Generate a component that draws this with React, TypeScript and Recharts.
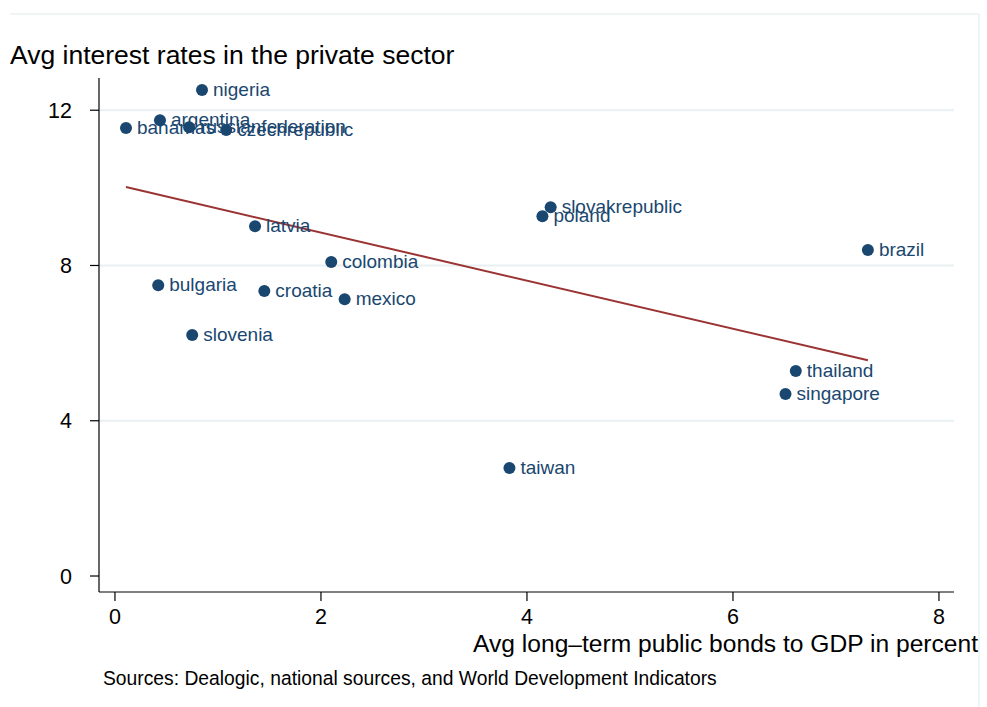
import React from 'react';
import {
  ScatterChart,
  Scatter,
  XAxis,
  YAxis,
  ReferenceLine,
} from 'recharts';

// countries, bond ratio (x) and private-sector rates (y)
const countries = [
  'nigeria', 'argentina', 'bahamas', 'russianfederation', 'czechrepublic',
  'latvia', 'colombia', 'bulgaria', 'croatia', 'mexico', 'slovenia',
  'slovakrepublic', 'poland', 'brazil', 'thailand', 'singapore', 'taiwan',
];
const bondsToGdp = [
  0.845, 0.437, 0.107, 0.72, 1.08,
  1.36, 2.1, 0.42, 1.45, 2.23, 0.75,
  4.23, 4.15, 7.31, 6.61, 6.51, 3.83,
];
const interestRates = [
  12.52, 11.74, 11.54, 11.56, 11.49,
  9.01, 8.09, 7.49, 7.34, 7.13, 6.21,
  9.5, 9.27, 8.4, 5.28, 4.69, 2.78,
];

// fitted line endpoints
const fitX = [0.107, 7.31];
const fitY = [10.02, 5.56];

const xTicks = [0, 2, 4, 6, 8];
const yTicks = [0, 4, 8, 12];
const gridLines = [4, 8, 12];

const NAVY = '#1a476f';
const MAROON = '#9b3333';
const FONT = '"Liberation Sans", Arial, sans-serif';

const points = countries.map((name, i) => ({
  name,
  x: bondsToGdp[i],
  y: interestRates[i],
}));
const fit = fitX.map((x, i) => ({ x, y: fitY[i] }));

const PointWithLabel = (props: any) => {
  const { cx, cy, payload } = props;
  return (
    <g>
      <circle cx={cx} cy={cy} r={6} fill={NAVY} />
      <text x={cx + 11} y={cy + 6} fill={NAVY} fontSize={19} fontFamily={FONT}>
        {payload.name}
      </text>
    </g>
  );
};

export default function App() {
  return (
    <div style={{ position: 'absolute', left: 0, top: 0, width: 987, height: 707, background: '#fff' }}>
      <ScatterChart
        width={987}
        height={707}
        margin={{ top: 78, right: 33, left: 39, bottom: 75 }}
        style={{ position: 'absolute', left: 0, top: 0 }}
      >
        <XAxis
          type="number"
          dataKey="x"
          domain={[-0.155, 8.146]}
          ticks={xTicks}
          allowDataOverflow
          height={40}
          tickSize={9}
          tickMargin={8}
          axisLine={{ stroke: '#000', strokeWidth: 1.2 }}
          tickLine={{ stroke: '#000', strokeWidth: 1.2 }}
          tick={{ fill: '#000', fontSize: 21.5, fontFamily: FONT }}
        />
        <YAxis
          type="number"
          dataKey="y"
          domain={[-0.412, 12.83]}
          ticks={yTicks}
          allowDataOverflow
          width={60}
          tickSize={9}
          tickMargin={18}
          axisLine={{ stroke: '#000', strokeWidth: 1.2 }}
          tickLine={{ stroke: '#000', strokeWidth: 1.2 }}
          tick={{ fill: '#000', fontSize: 21.5, fontFamily: FONT }}
        />
        {gridLines.map((v) => (
          <ReferenceLine key={v} y={v} stroke="#e8f0f2" strokeWidth={2} />
        ))}
        <Scatter
          data={fit}
          line={{ stroke: MAROON, strokeWidth: 2 }}
          shape={() => <g />}
          isAnimationActive={false}
        />
        <Scatter data={points} shape={PointWithLabel} isAnimationActive={false} />
      </ScatterChart>
      <svg
        width={987}
        height={707}
        style={{ position: 'absolute', left: 0, top: 0, pointerEvents: 'none' }}
        fontFamily={FONT}
      >
        <line x1={10} y1={14} x2={979} y2={14} stroke="#eaf0f2" strokeWidth={1.5} />
        <line x1={979} y1={14} x2={979} y2={707} stroke="#eaf0f2" strokeWidth={1.5} />
        <text x={10} y={64} fontSize={26.5} fill="#000">
          Avg interest rates in the private sector
        </text>
        <text x={978} y={652} fontSize={24.6} fill="#000" textAnchor="end">
          Avg long–term public bonds to GDP in percent
        </text>
        <text x={103} y={685} fontSize={19.3} fill="#000">
          Sources: Dealogic, national sources, and World Development Indicators
        </text>
      </svg>
    </div>
  );
}
